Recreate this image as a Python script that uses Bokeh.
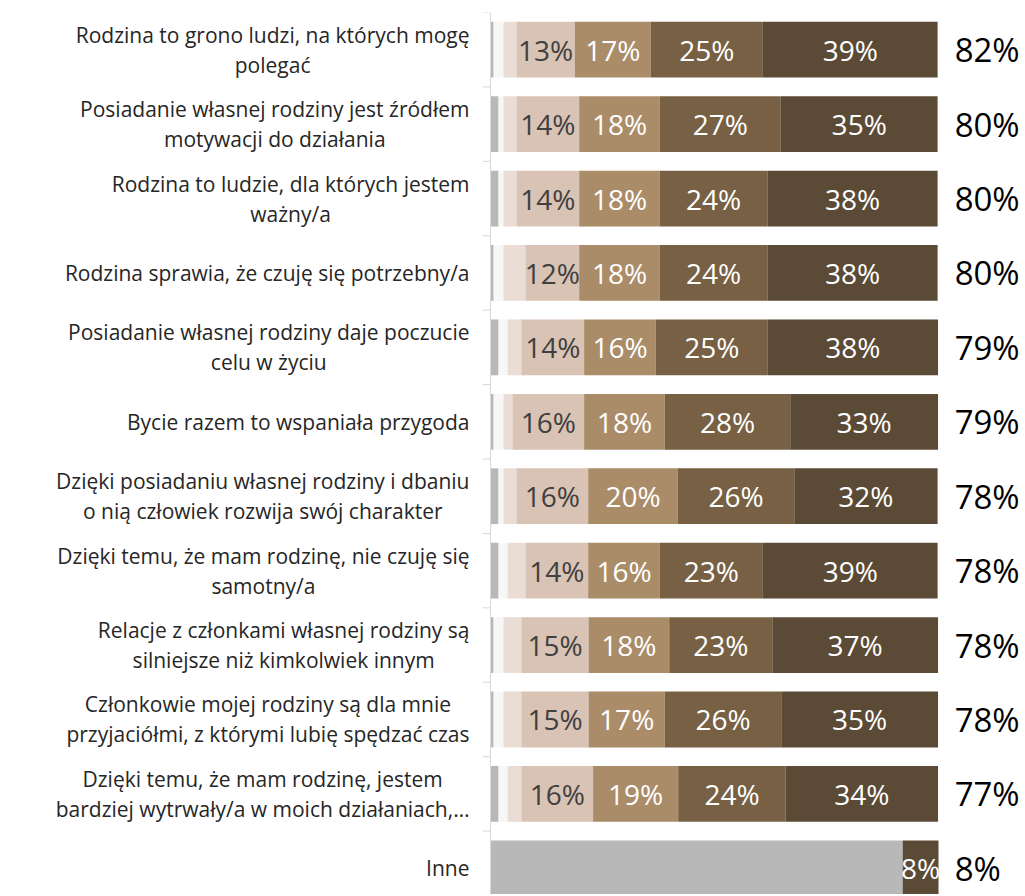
from bokeh.plotting import figure
from bokeh.models import ColumnDataSource, Range1d, Span
from bokeh.core.properties import value
from bokeh.embed import file_html
from bokeh.resources import INLINE

labels = [
    "Rodzina to grono ludzi, na których mogę\npolegać",
    "Posiadanie własnej rodziny jest źródłem\nmotywacji do działania",
    "Rodzina to ludzie, dla których jestem\nważny/a",
    "Rodzina sprawia, że czuję się potrzebny/a",
    "Posiadanie własnej rodziny daje poczucie\ncelu w życiu",
    "Bycie razem to wspaniała przygoda",
    "Dzięki posiadaniu własnej rodziny i dbaniu\no nią człowiek rozwija swój charakter",
    "Dzięki temu, że mam rodzinę, nie czuję się\nsamotny/a",
    "Relacje z członkami własnej rodziny są\nsilniejsze niż kimkolwiek innym",
    "Członkowie mojej rodziny są dla mnie\nprzyjaciółmi, z którymi lubię spędzać czas",
    "Dzięki temu, że mam rodzinę, jestem\nbardziej wytrwały/a w moich działaniach,…",
    "Inne",
]
s1 = [0.7, 1.8, 1.8, 0.7, 1.8, 0.7, 1.8, 1.8, 0.7, 0.7, 1.8, 92]
s2 = [2.2, 1.1, 1.1, 2.2, 2.0, 2.2, 1.1, 2.0, 2.2, 2.2, 2.0, 0]
s3 = [2.9, 2.9, 2.9, 4.9, 3.1, 2.0, 2.9, 4.0, 4.0, 4.0, 3.1, 0]
s4 = [13, 14, 14, 12, 14, 16, 16, 14, 15, 15, 16, 0]
s5 = [17, 18, 18, 18, 16, 18, 20, 16, 18, 17, 19, 0]
s6 = [25, 27, 24, 24, 25, 28, 26, 23, 23, 26, 24, 0]
s7 = [39, 35, 38, 38, 38, 33, 32, 39, 37, 35, 34, 8]
totals = [82, 80, 80, 80, 79, 79, 78, 78, 78, 78, 77, 8]

series = [s1, s2, s3, s4, s5, s6, s7]
names = ["s1", "s2", "s3", "s4", "s5", "s6", "s7"]
colors = ["#b8b8b8", "#f7f7f7", "#e9ddd5", "#d9c3b5", "#aa8c69", "#776043", "#5b4a35"]
labelled = {3: "#404040", 4: "#ffffff", 5: "#ffffff", 6: "#ffffff"}

n = len(labels)
ypos = [n - i for i in range(n)]  # first category at top

data = {"y": ypos}
for nm, s in zip(names, series):
    data[nm] = s
source = ColumnDataSource(data)

PX = 4.48  # pixels per percentage point
p = figure(width=1020, height=894,
           y_range=Range1d(0.648, n + 0.5),
           x_range=Range1d(-490 / PX, 530 / PX),
           x_axis_location=None, y_axis_location=None,
           toolbar_location=None, output_backend="svg",
           min_border_left=0, min_border_right=0,
           min_border_top=12, min_border_bottom=0)
p.outline_line_color = None
p.grid.visible = False

p.hbar_stack(names, y="y", height=0.75, color=colors, line_color=None, source=source)

# value axis line at 0 and category boundary ticks
p.add_layout(Span(location=0, dimension="height", line_color="#d9d9d9", line_width=1))
edges = [k + 0.5 for k in range(n + 1)]
p.segment(x0=[-8 / PX] * len(edges), x1=[0] * len(edges), y0=edges, y1=edges,
          line_color="#d9d9d9", line_width=1)

# segment labels
lx, ly, lt, lc = [], [], [], []
for i in range(n):
    cum = 0
    for k, s in enumerate(series):
        v = s[i]
        if k in labelled and v > 0:
            lx.append(cum + v / 2)
            ly.append(ypos[i])
            lt.append(f"{round(v)}%")
            lc.append(labelled[k])
        cum += v
p.text(x=lx, y=ly, text=lt, text_color=lc, text_align="center", text_baseline="middle",
       text_font=value("Open Sans"), text_font_size="28px")

# totals
p.text(x=[103.6] * n, y=ypos, text=[f"{t}%" for t in totals],
       text_color="#000000", text_align="left", text_baseline="middle",
       text_font=value("Open Sans"), text_font_size="33px")

# category labels: block right-aligned, lines centred
kw = dict(x=[-21 / PX] * n, y=ypos, text=labels, text_baseline="middle",
          text_font=value("Open Sans"), text_font_size="21px", text_color="#262626",
          text_line_height=1.07)
try:
    p.text(anchor="center_right", text_align="center", **kw)
except Exception:
    p.text(text_align="right", **kw)

open("out.html", "w").write(file_html(p, INLINE))
